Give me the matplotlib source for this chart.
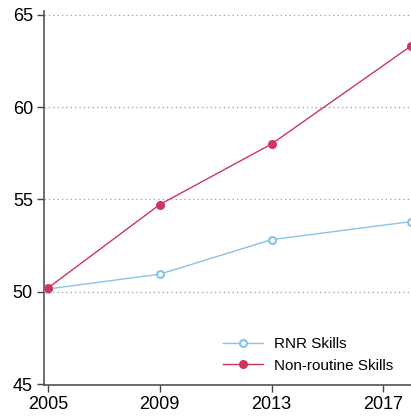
import matplotlib.pyplot as plt

plt.rcParams["font.family"] = ["Liberation Sans", "DejaVu Sans"]

years = [2005, 2009, 2013, 2018]
rnr_skills = [50.15, 50.95, 52.82, 53.8]
nonroutine_skills = [50.2, 54.72, 58.0, 63.32]
yticks = [45, 50, 55, 60, 65]
xticks = [2005, 2009, 2013, 2017]

blue = "#86c3ea"
red = "#cf3560"

fig = plt.figure(figsize=(4.11, 4.2), dpi=100)
ax = fig.add_axes([44 / 411, 35 / 420, 1 - 44 / 411 + 0.001, 374 / 420])

ax.plot(years, rnr_skills, color=blue, lw=1.0, marker="o", ms=5,
        mfc="white", mec=blue, mew=1.5, label="RNR Skills", clip_on=False, zorder=3)
ax.plot(years, nonroutine_skills, color=red, lw=1.0, marker="o", ms=5.5,
        mfc=red, mec=red, label="Non-routine Skills", clip_on=False, zorder=3)

ax.set_xlim(2004.86, 2018.0)
ax.set_ylim(44.95, 65.2)
ax.set_yticks(yticks)
ax.set_xticks(xticks)
ax.tick_params(labelsize=13, length=5, width=1.0, color="#444444", pad=3)
for y in yticks:
    ax.axhline(y, color="#999999", lw=0.9, ls=(0, (1, 2.5)), zorder=1)

for s in ["top", "right"]:
    ax.spines[s].set_visible(False)
for s in ["left", "bottom"]:
    ax.spines[s].set_color("#555555")
    ax.spines[s].set_linewidth(1.2)

ax.legend(loc="lower right", frameon=False, fontsize=11, handlelength=2.6,
          handletextpad=0.7, borderaxespad=0.2, bbox_to_anchor=(0.975, 0.008))

fig.savefig("out.png", dpi=100)
